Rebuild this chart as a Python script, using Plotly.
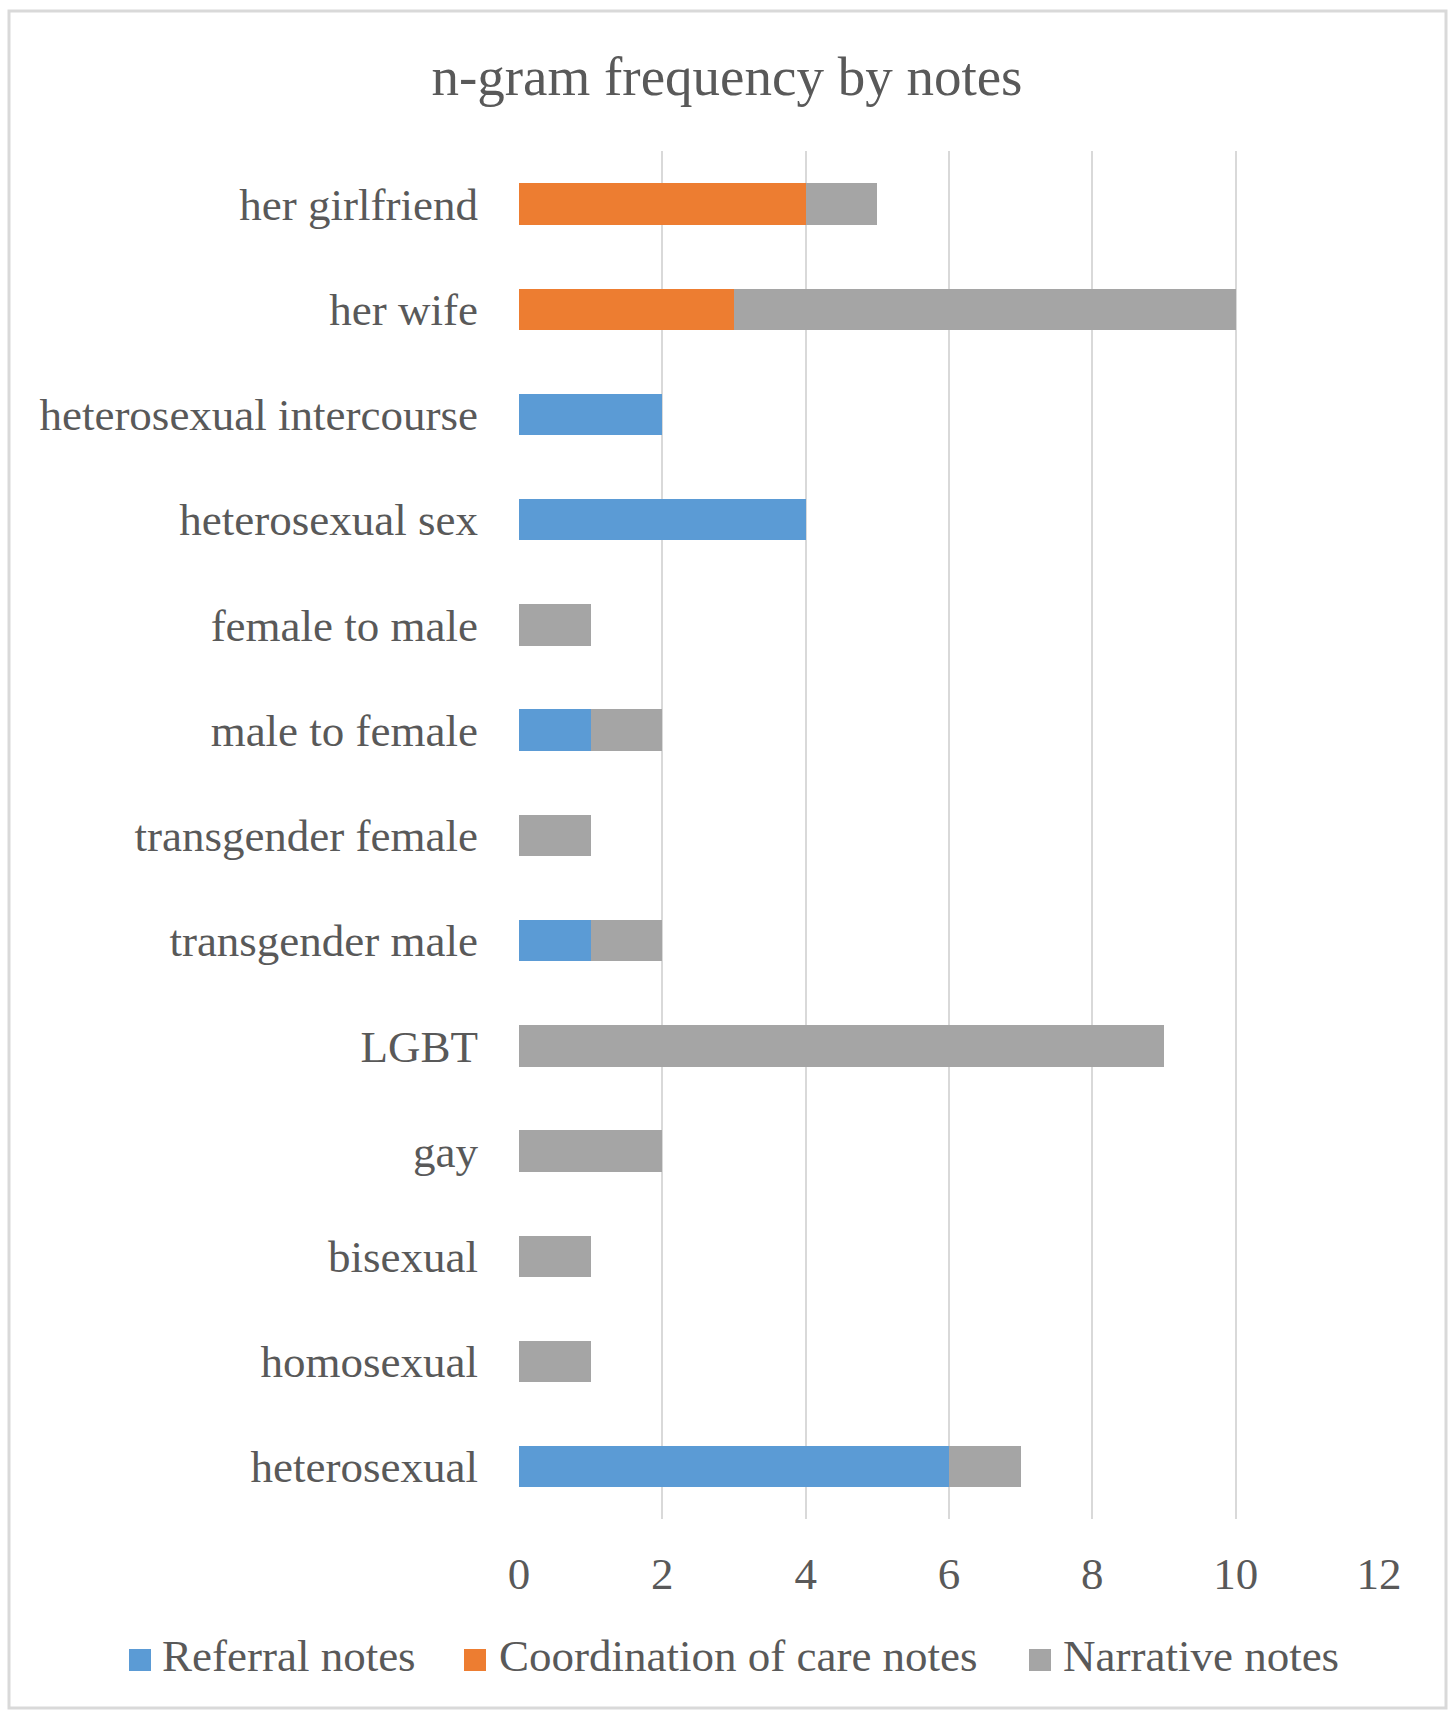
import plotly.graph_objects as go

categories = ["her girlfriend", "her wife", "heterosexual intercourse", "heterosexual sex",
              "female to male", "male to female", "transgender female", "transgender male",
              "LGBT", "gay", "bisexual", "homosexual", "heterosexual"]
referral = [0, 0, 2, 4, 0, 1, 0, 1, 0, 0, 0, 0, 6]
coordination = [4, 3, 0, 0, 0, 0, 0, 0, 0, 0, 0, 0, 0]
narrative = [1, 7, 0, 0, 1, 1, 1, 1, 9, 2, 1, 1, 1]
x_ticks = [0, 2, 4, 6, 8, 10, 12]
series_names = ["Referral notes", "Coordination of care notes", "Narrative notes"]
series_colors = ["#5B9BD5", "#ED7D31", "#A5A5A5"]

W, H = 1448, 1710
FONT = "Liberation Serif, Times New Roman, serif"
TXT = "#595959"

fig = go.Figure()
for name, vals, col in zip(series_names, [referral, coordination, narrative], series_colors):
    fig.add_trace(go.Bar(y=categories, x=vals, name=name, orientation="h",
                         marker=dict(color=col, line=dict(width=0)), showlegend=False))

x0, x1 = 519, 1379
ytop, ybot = 151.4, 1519.3
fig.update_layout(
    width=W, height=H,
    margin=dict(l=0, r=0, t=0, b=0, autoexpand=False),
    paper_bgcolor="white", plot_bgcolor="white",
    barmode="stack", bargap=0.606,
    font=dict(family=FONT, color=TXT, size=45),
    title=dict(text="n-gram frequency by notes", x=727 / W, xanchor="center",
               y=1 - 76 / H, yanchor="middle",
               font=dict(family=FONT, size=55, color=TXT)),
    xaxis=dict(domain=[x0 / W, x1 / W], range=[0, 12], tickvals=x_ticks,
               showgrid=True, gridcolor="#D9D9D9", gridwidth=1.5,
               zeroline=False, showline=False, ticks="", automargin=False,
               ticklabelstandoff=24,
               tickfont=dict(family=FONT, size=45, color=TXT)),
    yaxis=dict(domain=[1 - ybot / H, 1 - ytop / H], autorange="reversed",
               categoryorder="array", categoryarray=categories,
               showgrid=False, zeroline=False, showline=False, ticks="", automargin=False,
               ticklabelstandoff=40,
               tickfont=dict(family=FONT, size=45, color=TXT)),
    showlegend=False,
)
fig.add_shape(type="rect", xref="paper", yref="paper",
              x0=9 / W, x1=1446 / W, y0=1 - 1708 / H, y1=1 - 11 / H,
              line=dict(color="#D9D9D9", width=3), fillcolor="rgba(0,0,0,0)", layer="below")

# legend drawn as squares + text
leg_sq_y = 1660
leg_txt_y = 1656
leg_sq_x = [140, 475, 1040]
leg_txt_x = [160, 497, 1061]
for name, col, sx, tx in zip(series_names, series_colors, leg_sq_x, leg_txt_x):
    fig.add_shape(type="rect", xref="paper", yref="paper",
                  x0=(sx - 11) / W, x1=(sx + 11) / W,
                  y0=1 - (leg_sq_y + 11) / H, y1=1 - (leg_sq_y - 11) / H,
                  line=dict(width=0), fillcolor=col)
    fig.add_annotation(text=name, xref="paper", yref="paper", x=tx / W, y=1 - leg_txt_y / H,
                       xanchor="left", yanchor="middle", showarrow=False,
                       font=dict(family=FONT, size=45, color=TXT))

fig.write_html("out.html")
